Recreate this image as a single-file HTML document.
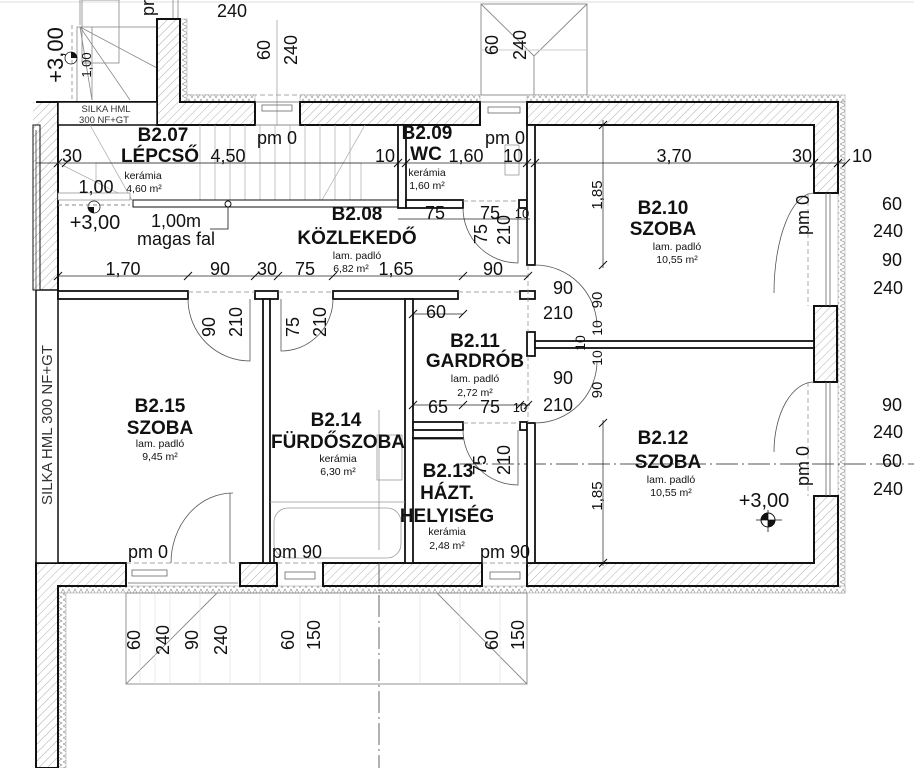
<!DOCTYPE html>
<html><head><meta charset="utf-8"><style>
html,body{margin:0;padding:0;background:#fff;}
svg{display:block;}
text{font-family:"Liberation Sans",sans-serif;fill:#111;}
.b{font-weight:bold;font-size:19px;}
.d{font-size:18px;}
.s{font-size:10.5px;}
</style></head><body>
<svg width="914" height="768" viewBox="0 0 914 768" xmlns="http://www.w3.org/2000/svg">
<defs>
<pattern id="h" width="6" height="6" patternUnits="userSpaceOnUse" patternTransform="rotate(45)">
<rect width="6" height="6" fill="#fff"/><line x1="0" y1="0" x2="0" y2="6" stroke="#999" stroke-width="0.8"/></pattern>
<pattern id="z" width="6" height="7" patternUnits="userSpaceOnUse">
<rect width="6" height="7" fill="#fff"/><polyline points="0,7 3,1 6,7" fill="none" stroke="#999" stroke-width="0.7"/></pattern>
<pattern id="zv" width="7" height="6" patternUnits="userSpaceOnUse">
<rect width="7" height="6" fill="#fff"/><polyline points="0,0 6,3 0,6" fill="none" stroke="#999" stroke-width="0.7"/></pattern>
</defs>
<rect width="914" height="768" fill="#fff"/>
<line x1="0" y1="2" x2="914" y2="2" stroke="#ddd"/>

<g stroke="#888" stroke-width="0.8" fill="none">
<rect x="77" y="27" width="80" height="75"/>
<rect x="82" y="0" width="37" height="63"/>
<line x1="80" y1="27" x2="157" y2="68"/>
<line x1="80" y1="27" x2="130" y2="100"/>
<line x1="80" y1="27" x2="92" y2="100"/>
<line x1="92" y1="27" x2="92" y2="100"/>
<line x1="72" y1="25" x2="72" y2="102" stroke-dasharray="4,3"/>
<line x1="80" y1="0" x2="80" y2="25"/>
<line x1="173" y1="0" x2="173" y2="18"/>
<line x1="178" y1="0" x2="178" y2="18"/>
</g>
<path d="M71,52 a6,6 0 0 1 6,6 h-6z" fill="#111"/>
<circle cx="71" cy="58" r="6" fill="none" stroke="#111" stroke-width="0.8"/>

<g stroke="#888" stroke-width="0.9" fill="none">
<rect x="481" y="4" width="106" height="91"/>
<polyline points="481,4 534,56 587,4"/>
<line x1="534" y1="56" x2="534" y2="95"/>
<line x1="481" y1="50" x2="587" y2="50" stroke="#ccc"/>
</g>
<line x1="277" y1="20" x2="277" y2="125" stroke="#999" stroke-width="0.7"/>
<line x1="180" y1="95" x2="480" y2="95" stroke="#aaa" stroke-dasharray="5,3"/>

<rect x="180" y="95" width="75" height="7" fill="url(#z)" stroke="#999" stroke-width="0.5"/>
<rect x="300" y="95" width="180" height="7" fill="url(#z)" stroke="#999" stroke-width="0.5"/>
<rect x="527" y="95" width="318" height="7" fill="url(#z)" stroke="#999" stroke-width="0.5"/>
<rect x="180" y="19" width="7" height="83" fill="url(#zv)" stroke="#999" stroke-width="0.5"/>
<rect x="838" y="102" width="7" height="491" fill="url(#zv)" stroke="#999" stroke-width="0.5"/>
<rect x="58" y="586" width="787" height="7" fill="url(#z)" stroke="#999" stroke-width="0.5"/>
<rect x="58" y="593" width="8" height="175" fill="url(#zv)" stroke="#999" stroke-width="0.5"/>

<g fill="url(#h)" stroke="#111" stroke-width="2">
<path d="M157,19 H180 V102 H255 V125 H157 Z"/>
<rect x="300" y="102" width="180" height="23"/>
<path d="M527,102 H838 V193 H814 V125 H527 Z"/>
<rect x="814" y="306" width="23" height="76"/>
<path d="M814,496 H838 V586 H527 V563 H814 Z"/>
<rect x="323" y="563" width="159" height="23"/>
<rect x="240" y="563" width="37" height="23"/>
<path d="M36,563 H126 V586 H58 V768 H36 Z"/>
</g>
<rect x="33" y="102" width="25" height="188" fill="url(#h)" stroke="none"/>
<line x1="58" y1="102" x2="58" y2="290" stroke="#111" stroke-width="2"/>
<line x1="36" y1="102" x2="157" y2="102" stroke="#111" stroke-width="2"/>
<rect x="58" y="102" width="99" height="23" fill="#fff" stroke="#111" stroke-width="1.5"/>
<rect x="36" y="290" width="22" height="273" fill="#fff" stroke="#111" stroke-width="1.5"/>
<rect x="33" y="125" width="7" height="165" fill="url(#h)" stroke="#111" stroke-width="1"/>

<g stroke="#666" stroke-width="0.8" fill="none">
<rect x="262" y="105" width="30" height="6"/><line x1="255" y1="102" x2="300" y2="102"/><line x1="255" y1="125" x2="300" y2="125"/>
<rect x="488" y="107" width="32" height="6"/><line x1="480" y1="102" x2="527" y2="102"/>
<rect x="285" y="572" width="30" height="7"/><rect x="490" y="572" width="30" height="7"/>
<rect x="132" y="570" width="35" height="6"/><line x1="128" y1="583" x2="238" y2="583"/>
<line x1="826" y1="193" x2="826" y2="306"/><line x1="830" y1="193" x2="830" y2="306"/>
<line x1="826" y1="382" x2="826" y2="496"/><line x1="830" y1="382" x2="830" y2="496"/>
</g>

<g stroke="#888" stroke-width="0.9" fill="none">
<rect x="126" y="593" width="401" height="91"/>
<line x1="126" y1="684" x2="217" y2="593"/>
<line x1="527" y1="684" x2="437" y2="593"/>
</g>
<g stroke="#ddd" stroke-width="0.6">
<line x1="140" y1="593" x2="140" y2="684"/><line x1="155" y1="593" x2="155" y2="684"/><line x1="170" y1="593" x2="170" y2="684"/><line x1="200" y1="593" x2="200" y2="684"/><line x1="230" y1="593" x2="230" y2="684"/><line x1="260" y1="593" x2="260" y2="684"/><line x1="300" y1="593" x2="300" y2="684"/><line x1="340" y1="593" x2="340" y2="684"/><line x1="420" y1="593" x2="420" y2="684"/><line x1="460" y1="593" x2="460" y2="684"/><line x1="500" y1="593" x2="500" y2="684"/>
</g>
<line x1="379" y1="563" x2="379" y2="768" stroke="#555" stroke-width="0.9" stroke-dasharray="22,4,2,4"/>
<line x1="460" y1="464" x2="914" y2="464" stroke="#555" stroke-width="0.9" stroke-dasharray="22,4,2,4"/>

<g stroke="#aaa" stroke-width="0.7" fill="none">
<line x1="96" y1="163" x2="96" y2="200"/>
<line x1="200" y1="125" x2="200" y2="200"/><line x1="215" y1="125" x2="215" y2="200"/><line x1="230" y1="125" x2="230" y2="200"/><line x1="245" y1="125" x2="245" y2="200"/><line x1="260" y1="125" x2="260" y2="200"/><line x1="275" y1="125" x2="275" y2="200"/><line x1="290" y1="125" x2="290" y2="200"/><line x1="305" y1="125" x2="305" y2="200"/><line x1="320" y1="125" x2="320" y2="200"/><line x1="335" y1="125" x2="335" y2="200"/><line x1="350" y1="125" x2="350" y2="200"/><line x1="361" y1="163" x2="361" y2="200"/>
<line x1="90" y1="125" x2="132" y2="200"/><line x1="58" y1="163" x2="132" y2="200"/>
<line x1="322" y1="200" x2="365" y2="125"/>
<line x1="96" y1="163" x2="361" y2="163"/>
</g>
<rect x="58" y="193" width="72" height="7" fill="#fff" stroke="#888" stroke-width="0.7"/>
<rect x="133" y="200" width="265" height="7" fill="#fff" stroke="#111" stroke-width="1"/>
<circle cx="228" cy="204" r="3" fill="#fff" stroke="#111"/>
<polyline points="228,207 228,229 210,229" fill="none" stroke="#111" stroke-width="0.8"/>
<path d="M88,207 a6,6 0 0 0 6,6 v-6z" fill="#111"/>
<circle cx="94" cy="207" r="6" fill="none" stroke="#111" stroke-width="0.8"/>
<line x1="58" y1="205" x2="130" y2="205" stroke="#888" stroke-dasharray="4,3"/>

<g fill="#fff" stroke="#111" stroke-width="1.8">
<rect x="398" y="125" width="8" height="83"/>
<rect x="406" y="200" width="57" height="8"/>
<rect x="519" y="200" width="8" height="8"/>
<rect x="527" y="125" width="8" height="140"/>
<rect x="58" y="291" width="130" height="8"/>
<rect x="255" y="291" width="23" height="8"/>
<rect x="333" y="291" width="125" height="8"/>
<rect x="520" y="291" width="15" height="8"/>
<rect x="263" y="299" width="7" height="264"/>
<rect x="405" y="299" width="8" height="264"/>
<rect x="413" y="422" width="50" height="8"/>
<rect x="520" y="422" width="7" height="8"/>
<rect x="413" y="438" width="50" height="0.5"/>
<rect x="527" y="423" width="8" height="140"/>
<rect x="527" y="332" width="8" height="24"/>
<rect x="535" y="341" width="279" height="7"/>
</g>

<g fill="none" stroke="#555" stroke-width="0.8">
<path d="M188,299 A62,62 0 0 0 250,361 V299"/>
<path d="M333,299 A52,52 0 0 1 281,351 V299"/>
<path d="M463,208 A55,55 0 0 0 518,263 V208"/>
<path d="M535,265 A62,62 0 0 1 597,327"/>
<path d="M535,423 A62,62 0 0 0 597,361"/>
<path d="M463,430 A55,55 0 0 0 518,485 V430"/>
<path d="M814,193 A40,100 0 0 0 774,293"/>
<path d="M814,382 A40,70 0 0 0 774,452"/>
<path d="M233,493 A62,70 0 0 0 171,563"/>
<line x1="230" y1="493" x2="230" y2="563"/>
</g>
<g fill="none" stroke="#888" stroke-width="0.7" stroke-dasharray="5,3">
<line x1="188" y1="292" x2="255" y2="292"/><line x1="278" y1="292" x2="333" y2="292"/><line x1="458" y1="292" x2="520" y2="292"/>
<line x1="463" y1="201" x2="519" y2="201"/><line x1="463" y1="423" x2="520" y2="423"/>
<line x1="126" y1="563" x2="240" y2="563"/><line x1="277" y1="563" x2="323" y2="563"/><line x1="482" y1="563" x2="527" y2="563"/>
<line x1="808" y1="193" x2="808" y2="306"/><line x1="808" y1="382" x2="808" y2="496"/>
<line x1="528" y1="265" x2="528" y2="332"/><line x1="528" y1="356" x2="528" y2="423"/>
</g>
<g fill="none" stroke="#999" stroke-width="0.8">
<rect x="274" y="508" width="127" height="50" rx="14"/>
<line x1="270" y1="502" x2="405" y2="502"/>
<rect x="377" y="435" width="25" height="45"/>
<rect x="505" y="145" width="14" height="30"/>
<line x1="379" y1="410" x2="379" y2="550"/>
</g>

<g stroke="#222" stroke-width="0.7" fill="none">
<line x1="36" y1="163" x2="845" y2="163"/>
<line x1="58" y1="276" x2="528" y2="276"/>
<line x1="398" y1="219" x2="530" y2="219"/>
<line x1="413" y1="314" x2="463" y2="314"/>
<line x1="413" y1="405" x2="530" y2="405"/>
<line x1="603" y1="120" x2="603" y2="268"/>
<line x1="603" y1="420" x2="603" y2="566"/>
<line x1="36" y1="130" x2="36" y2="290"/>
</g>
<g stroke="#111" stroke-width="1">
<path d="M54,167 l8,-8 M62,167 l8,-8 M394,167 l8,-8 M402,167 l8,-8 M523,167 l8,-8 M531,167 l8,-8 M810,167 l8,-8 M834,167 l8,-8 M842,167 l8,-8"/>
<path d="M54,280 l8,-8 M184,280 l8,-8 M251,280 l8,-8 M274,280 l8,-8 M329,280 l8,-8 M459,280 l8,-8 M524,280 l8,-8"/>
<path d="M599,129 l8,-8 M599,269 l8,-8 M599,427 l8,-8 M599,567 l8,-8"/>
<path d="M409,318 l8,-8 M459,318 l8,-8 M409,409 l8,-8 M459,409 l8,-8 M516,409 l8,-8 M524,409 l8,-8"/>
</g>

<text class="d" x="232" y="17" text-anchor="middle">240</text>
<text class="d" transform="translate(154,8) rotate(-90)" text-anchor="middle">pr</text>
<text class="d" transform="translate(270,50) rotate(-90)" text-anchor="middle">60</text>
<text class="d" transform="translate(297,50) rotate(-90)" text-anchor="middle">240</text>
<text class="d" transform="translate(498,45) rotate(-90)" text-anchor="middle">60</text>
<text class="d" transform="translate(526,45) rotate(-90)" text-anchor="middle">240</text>
<text style="font-size:22px" transform="translate(63,55) rotate(-90)" text-anchor="middle">+3,00</text>
<text style="font-size:13px" transform="translate(91,65) rotate(-90)" text-anchor="middle">1,00</text>
<text style="font-size:9.5px;fill:#333" x="106" y="112" text-anchor="middle">SILKA HML</text>
<text style="font-size:9.5px;fill:#333" x="104" y="123" text-anchor="middle">300 NF+GT</text>
<text style="font-size:15px;fill:#333" transform="translate(52,425) rotate(-90)" text-anchor="middle">SILKA HML 300 NF+GT</text>

<text class="b" x="163" y="141" text-anchor="middle">B2.07</text>
<text class="b" x="160" y="162" text-anchor="middle">LÉPCSŐ</text>
<text class="s" x="143" y="179" text-anchor="middle">kerámia</text>
<text class="s" x="144" y="192" text-anchor="middle">4,60 m²</text>
<text class="d" x="228" y="162" text-anchor="middle">4,50</text>
<text class="d" x="277" y="144" text-anchor="middle">pm 0</text>
<text class="d" x="72" y="162" text-anchor="middle">30</text>
<text class="d" x="385" y="162" text-anchor="middle">10</text>
<text class="d" x="96" y="193" text-anchor="middle">1,00</text>
<text style="font-size:20px" x="95" y="229" text-anchor="middle">+3,00</text>
<text class="d" x="176" y="227" text-anchor="middle">1,00m</text>
<text class="d" x="176" y="245" text-anchor="middle">magas fal</text>

<text class="b" x="427" y="139" text-anchor="middle">B2.09</text>
<text class="b" x="426" y="160" text-anchor="middle">WC</text>
<text class="d" x="466" y="162" text-anchor="middle">1,60</text>
<text class="d" x="513" y="162" text-anchor="middle">10</text>
<text class="d" x="505" y="144" text-anchor="middle">pm 0</text>
<text class="s" x="427" y="176" text-anchor="middle">kerámia</text>
<text class="s" x="427" y="189" text-anchor="middle">1,60 m²</text>
<text class="d" x="674" y="162" text-anchor="middle">3,70</text>
<text class="d" x="802" y="162" text-anchor="middle">30</text>
<text class="d" x="862" y="162" text-anchor="middle">10</text>

<text class="b" x="357" y="220" text-anchor="middle">B2.08</text>
<text class="b" x="357" y="244" text-anchor="middle">KÖZLEKEDŐ</text>
<text class="s" x="357" y="259" text-anchor="middle">lam. padló</text>
<text class="s" x="351" y="272" text-anchor="middle">6,82 m²</text>
<text class="d" x="435" y="219" text-anchor="middle">75</text>
<text class="d" x="490" y="219" text-anchor="middle">75</text>
<text style="font-size:13px" x="522" y="218" text-anchor="middle">10</text>
<text class="d" transform="translate(487,234) rotate(-90)" text-anchor="middle">75</text>
<text class="d" transform="translate(510,230) rotate(-90)" text-anchor="middle">210</text>

<text class="d" x="123" y="275" text-anchor="middle">1,70</text>
<text class="d" x="220" y="275" text-anchor="middle">90</text>
<text class="d" x="267" y="275" text-anchor="middle">30</text>
<text class="d" x="305" y="275" text-anchor="middle">75</text>
<text class="d" x="396" y="275" text-anchor="middle">1,65</text>
<text class="d" x="493" y="275" text-anchor="middle">90</text>

<text class="d" x="563" y="294" text-anchor="middle">90</text>
<text class="d" x="558" y="319" text-anchor="middle">210</text>
<text class="d" x="563" y="384" text-anchor="middle">90</text>
<text class="d" x="558" y="411" text-anchor="middle">210</text>
<text style="font-size:15px" transform="translate(602,300) rotate(-90)" text-anchor="middle">90</text>
<text style="font-size:14px" transform="translate(602,328) rotate(-90)" text-anchor="middle">10</text>
<text style="font-size:14px" transform="translate(585,343) rotate(-90)" text-anchor="middle">10</text>
<text style="font-size:14px" transform="translate(602,358) rotate(-90)" text-anchor="middle">10</text>
<text style="font-size:15px" transform="translate(602,390) rotate(-90)" text-anchor="middle">90</text>
<text style="font-size:15px" transform="translate(602,195) rotate(-90)" text-anchor="middle">1,85</text>
<text style="font-size:15px" transform="translate(602,496) rotate(-90)" text-anchor="middle">1,85</text>

<text class="b" x="663" y="214" text-anchor="middle">B2.10</text>
<text class="b" x="663" y="235" text-anchor="middle">SZOBA</text>
<text class="s" x="677" y="250" text-anchor="middle">lam. padló</text>
<text class="s" x="677" y="263" text-anchor="middle">10,55 m²</text>
<text class="d" transform="translate(809,215) rotate(-90)" text-anchor="middle">pm 0</text>
<text class="d" transform="translate(809,466) rotate(-90)" text-anchor="middle">pm 0</text>

<text class="d" x="892" y="210" text-anchor="middle">60</text>
<text class="d" x="888" y="237" text-anchor="middle">240</text>
<text class="d" x="892" y="266" text-anchor="middle">90</text>
<text class="d" x="888" y="294" text-anchor="middle">240</text>
<text class="d" x="892" y="411" text-anchor="middle">90</text>
<text class="d" x="888" y="438" text-anchor="middle">240</text>
<text class="d" x="892" y="467" text-anchor="middle">60</text>
<text class="d" x="888" y="495" text-anchor="middle">240</text>

<text class="b" x="475" y="347" text-anchor="middle">B2.11</text>
<text class="b" x="475" y="367" text-anchor="middle">GARDRÓB</text>
<text class="s" x="475" y="382" text-anchor="middle">lam. padló</text>
<text class="s" x="475" y="396" text-anchor="middle">2,72 m²</text>
<text class="d" x="436" y="318" text-anchor="middle">60</text>
<text class="d" x="438" y="413" text-anchor="middle">65</text>
<text class="d" x="490" y="413" text-anchor="middle">75</text>
<text style="font-size:13px" x="520" y="412" text-anchor="middle">10</text>

<text class="b" x="160" y="412" text-anchor="middle">B2.15</text>
<text class="b" x="160" y="434" text-anchor="middle">SZOBA</text>
<text class="s" x="160" y="447" text-anchor="middle">lam. padló</text>
<text class="s" x="160" y="460" text-anchor="middle">9,45 m²</text>
<text class="d" x="148" y="558" text-anchor="middle">pm 0</text>
<text class="d" transform="translate(215,327) rotate(-90)" text-anchor="middle">90</text>
<text class="d" transform="translate(242,322) rotate(-90)" text-anchor="middle">210</text>
<text class="d" transform="translate(299,327) rotate(-90)" text-anchor="middle">75</text>
<text class="d" transform="translate(326,322) rotate(-90)" text-anchor="middle">210</text>

<text class="b" x="336" y="426" text-anchor="middle">B2.14</text>
<text class="b" x="338" y="448" text-anchor="middle">FÜRDŐSZOBA</text>
<text class="s" x="338" y="462" text-anchor="middle">kerámia</text>
<text class="s" x="338" y="475" text-anchor="middle">6,30 m²</text>
<text class="d" x="297" y="558" text-anchor="middle">pm 90</text>

<text class="b" x="448" y="477" text-anchor="middle">B2.13</text>
<text class="b" x="447" y="499" text-anchor="middle">HÁZT.</text>
<text class="b" x="447" y="522" text-anchor="middle">HELYISÉG</text>
<text class="s" x="447" y="535" text-anchor="middle">kerámia</text>
<text class="s" x="447" y="549" text-anchor="middle">2,48 m²</text>
<text class="d" x="505" y="558" text-anchor="middle">pm 90</text>
<text class="d" transform="translate(486,465) rotate(-90)" text-anchor="middle">75</text>
<text class="d" transform="translate(510,460) rotate(-90)" text-anchor="middle">210</text>

<text class="b" x="663" y="444" text-anchor="middle">B2.12</text>
<text class="b" x="668" y="468" text-anchor="middle">SZOBA</text>
<text class="s" x="671" y="483" text-anchor="middle">lam. padló</text>
<text class="s" x="671" y="496" text-anchor="middle">10,55 m²</text>
<text style="font-size:20px" x="764" y="507" text-anchor="middle">+3,00</text>
<circle cx="768" cy="520" r="7" fill="#fff" stroke="#111"/>
<path d="M768,513 a7,7 0 0 0 -7,7 h7z M768,527 a7,7 0 0 0 7,-7 h-7z" fill="#111"/>
<line x1="756" y1="520" x2="782" y2="520" stroke="#111" stroke-width="0.8"/>
<line x1="768" y1="510" x2="768" y2="532" stroke="#111" stroke-width="0.8"/>

<text class="d" transform="translate(140,640) rotate(-90)" text-anchor="middle">60</text>
<text class="d" transform="translate(169,640) rotate(-90)" text-anchor="middle">240</text>
<text class="d" transform="translate(198,640) rotate(-90)" text-anchor="middle">90</text>
<text class="d" transform="translate(227,640) rotate(-90)" text-anchor="middle">240</text>
<text class="d" transform="translate(294,640) rotate(-90)" text-anchor="middle">60</text>
<text class="d" transform="translate(320,635) rotate(-90)" text-anchor="middle">150</text>
<text class="d" transform="translate(498,640) rotate(-90)" text-anchor="middle">60</text>
<text class="d" transform="translate(524,635) rotate(-90)" text-anchor="middle">150</text>
</svg>
</body></html>
